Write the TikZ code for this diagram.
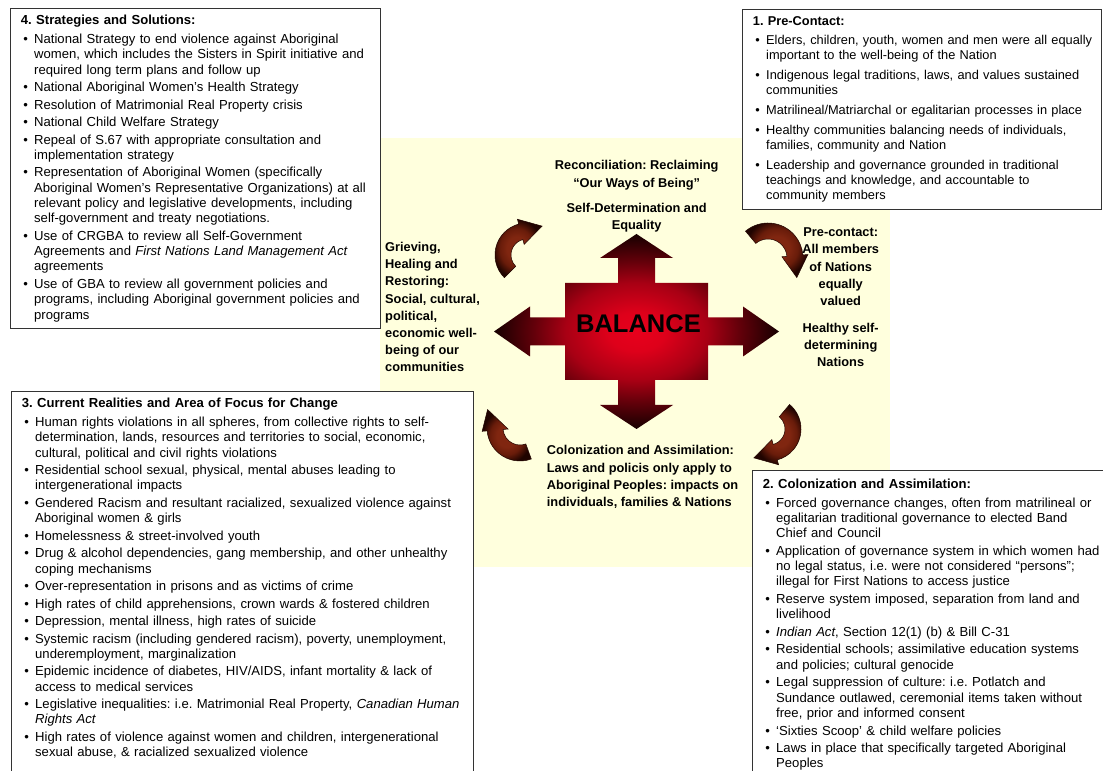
\documentclass[tikz,border=0pt]{standalone}
\usepackage{fontspec}
\setmainfont{Liberation Sans}
\usepackage{enumitem}
\usetikzlibrary{calc}
\definecolor{balred}{RGB}{232,0,28}
\definecolor{balred2}{RGB}{222,0,26}
\definecolor{balmid}{RGB}{168,0,20}
\definecolor{baldark}{RGB}{100,0,10}
\definecolor{baltip}{RGB}{22,0,0}
\definecolor{swirlhi}{RGB}{128,38,16}
\definecolor{swirlmid}{RGB}{105,28,10}
\definecolor{swirllo}{RGB}{32,4,0}
\definecolor{paleyellow}{RGB}{255,255,221}
\pgfdeclareradialshading{balance}{\pgfpoint{0bp}{0bp}}{color(0bp)=(balred); color(5bp)=(balred2); color(12.5bp)=(balmid); color(18bp)=(baldark); color(25bp)=(baltip); color(50bp)=(baltip)}
\pgfdeclareradialshading{swirl}{\pgfpoint{0bp}{0bp}}{color(0bp)=(swirlhi); color(10bp)=(swirlhi); color(17bp)=(swirlmid); color(25bp)=(swirllo); color(50bp)=(swirllo)}
\setlist[itemize]{label=\textbullet, leftmargin=13.3pt, rightmargin=-40pt, labelsep=6.3pt, labelwidth=7pt, topsep=3.4pt, itemsep=2.2pt, parsep=0pt, partopsep=0pt}
\begin{document}
\frenchspacing
\begin{tikzpicture}[x=1pt, y=1pt,
    boxtext/.style={draw=black!80, line width=0.8pt, fill=white, anchor=north west,
        align=left, inner xsep=10.5pt, inner ysep=7pt,
        font=\fontsize{13.1}{15.3}\selectfont},
    lbl/.style={inner sep=0pt, font=\fontsize{12.8}{17.2}\selectfont\bfseries},
    curl/.style={shading=swirl, draw=swirllo, line width=0.5pt}]
    \useasboundingbox (0,0) rectangle (1103,771);
    \clip (0,0) rectangle (1103,771);
    % yellow field behind the cycle
    \fill[paleyellow] (380,204) rectangle (890,633);
    % the four boxes
    \node[boxtext, text width=349pt] (strat) at (10,763) {\textbf{4. Strategies and Solutions:}
        \begin{itemize}
        \item National Strategy to end violence against Aboriginal\newline women, which includes the Sisters in Spirit initiative and\newline required long term plans and follow up
        \item National Aboriginal Women’s Health Strategy
        \item Resolution of Matrimonial Real Property crisis
        \item National Child Welfare Strategy
        \item Repeal of S.67 with appropriate consultation and\newline implementation strategy
        \item Representation of Aboriginal Women (specifically\newline Aboriginal Women’s Representative Organizations) at all\newline relevant policy and legislative developments, including\newline self-government and treaty negotiations.
        \item Use of CRGBA to review all Self-Government\newline Agreements and \textit{First Nations Land Management Act}\newline agreements
        \item Use of GBA to review all government policies and\newline programs, including Aboriginal government policies and\newline programs
        \end{itemize}};
    \node[boxtext, text width=338pt, font=\fontsize{12.8}{15.3}\selectfont] (pre) at (742,762) {\textbf{1. Pre-Contact:}
        \begin{itemize}[itemsep=4.5pt]
        \item Elders, children, youth, women and men were all equally\newline important to the well-being of the Nation
        \item Indigenous legal traditions, laws, and values sustained\newline communities
        \item Matrilineal/Matriarchal or egalitarian processes in place
        \item Healthy communities balancing needs of individuals,\newline families, community and Nation
        \item Leadership and governance grounded in traditional\newline teachings and knowledge, and accountable to\newline community members
        \end{itemize}};
    \node[boxtext, text width=441pt] (real) at (11,380) {\textbf{3. Current Realities and Area of Focus for Change}
        \begin{itemize}
        \item Human rights violations in all spheres, from collective rights to self-\newline determination, lands, resources and territories to social, economic,\newline cultural, political and civil rights violations
        \item Residential school sexual, physical, mental abuses leading to\newline intergenerational impacts
        \item Gendered Racism and resultant racialized, sexualized violence against\newline Aboriginal women \& girls
        \item Homelessness \& street-involved youth
        \item Drug \& alcohol dependencies, gang membership, and other unhealthy\newline coping mechanisms
        \item Over-representation in prisons and as victims of crime
        \item High rates of child apprehensions, crown wards \& fostered children
        \item Depression, mental illness, high rates of suicide
        \item Systemic racism (including gendered racism), poverty, unemployment,\newline underemployment, marginalization
        \item Epidemic incidence of diabetes, HIV/AIDS, infant mortality \& lack of\newline access to medical services
        \item Legislative inequalities: i.e. Matrimonial Real Property, \textit{Canadian Human\newline Rights Act}
        \item High rates of violence against women and children, intergenerational\newline sexual abuse, \& racialized sexualized violence
        \end{itemize}
        \par\rule{0pt}{20pt}};
    \node[boxtext, text width=360pt, inner ysep=8.5pt] (colbox) at (752,301) {\textbf{2. Colonization and Assimilation:}
        \begin{itemize}[itemsep=2.3pt]
        \item Forced governance changes, often from matrilineal or\newline egalitarian traditional governance to elected Band\newline Chief and Council
        \item Application of governance system in which women had\newline no legal status, i.e. were not considered “persons”;\newline illegal for First Nations to access justice
        \item Reserve system imposed, separation from land and\newline livelihood
        \item \textit{Indian Act}, Section 12(1) (b) \& Bill C-31
        \item Residential schools; assimilative education systems\newline and policies; cultural genocide
        \item Legal suppression of culture: i.e. Potlatch and\newline Sundance outlawed, ceremonial items taken without\newline free, prior and informed consent
        \item ‘Sixties Scoop’ \& child welfare policies
        \item Laws in place that specifically targeted Aboriginal\newline Peoples
        \end{itemize}};
    % central cross
    \begin{scope}[shift={(636.5,439.5)}]
        \shade[shading=balance] (18.5,48.5) -- (18.5,73.5) -- (36.5,73.5) -- (0,97.5)
        -- (-36.5,73.5) -- (-18.5,73.5) -- (-18.5,48.5) -- (-71.5,48.5) -- (-71.5,14)
        -- (-106.5,14) -- (-106.5,25) -- (-142.5,0) -- (-106.5,-25) -- (-106.5,-14)
        -- (-71.5,-14) -- (-71.5,-48.5) -- (-18.5,-48.5) -- (-18.5,-73.5) -- (-36.5,-73.5)
        -- (0,-97.5) -- (36.5,-73.5) -- (18.5,-73.5) -- (18.5,-48.5) -- (71.5,-48.5)
        -- (71.5,-14) -- (106.5,-14) -- (106.5,-25) -- (142.5,0) -- (106.5,25)
        -- (106.5,14) -- (71.5,14) -- (71.5,48.5) -- cycle;
    \end{scope}
    \node[inner sep=0pt, font=\fontsize{25.5}{28}\selectfont\bfseries] (bal) at (638.5,447.6) {BALANCE};
    % curved arrows, clockwise
    \coordinate (tlc) at (527,516);
    \coordinate (trc) at (768,513);
    \coordinate (brc) at (769,342);
    \coordinate (blc) at (520,343);
    \shade[curl] ([shift={(225:32)}]tlc) arc[start angle=225, end angle=105, radius=32]
        -- ([shift={(105:37)}]tlc) -- ($(tlc)+(105:24)+(15:22)$) -- ([shift={(105:11)}]tlc)
        -- ([shift={(105:16)}]tlc) arc[start angle=105, end angle=225, radius=16] -- cycle;
    \shade[curl] ([shift={(130:35)}]trc) arc[start angle=130, end angle=5, radius=35]
        -- ([shift={(5:40)}]trc) -- ($(trc)+(5:27)+(-85:22)$) -- ([shift={(5:14)}]trc)
        -- ([shift={(5:19)}]trc) arc[start angle=5, end angle=130, radius=19] -- cycle;
    \shade[curl] ([shift={(50:32)}]brc) arc[start angle=50, end angle=-75, radius=32]
        -- ([shift={(-75:37)}]brc) -- ($(brc)+(-75:24)+(-165:22)$) -- ([shift={(-75:11)}]brc)
        -- ([shift={(-75:16)}]brc) arc[start angle=-75, end angle=50, radius=16] -- cycle;
    \shade[curl] ([shift={(290:33)}]blc) arc[start angle=290, end angle=185, radius=33]
        -- ([shift={(185:38)}]blc) -- ($(blc)+(185:25)+(110:22)$) -- ([shift={(185:12)}]blc)
        -- ([shift={(185:17)}]blc) arc[start angle=185, end angle=290, radius=17] -- cycle;
    % labels round the cross
    \node[lbl, anchor=north, align=center] (recon) at (636.7,610.6)
        {Reconciliation: Reclaiming\\“Our Ways of Being”\\[8.1pt]Self-Determination and\\Equality};
    \node[lbl, anchor=north, align=center] (precon) at (840.7,543.4)
        {Pre-contact:\\All members\\of Nations\\equally\\valued\\[9.5pt]Healthy self-\\determining\\Nations};
    \node[lbl, anchor=north west, align=left] (grief) at (385,528.9)
        {Grieving,\\Healing and\\Restoring:\\Social, cultural,\\political,\\economic well-\\being of our\\communities};
    \node[lbl, anchor=north west, align=left] (coloni) at (546.7,325.6)
        {Colonization and Assimilation:\\Laws and policis only apply to\\Aboriginal Peoples: impacts on\\individuals, families \& Nations};
\end{tikzpicture}
\end{document}
